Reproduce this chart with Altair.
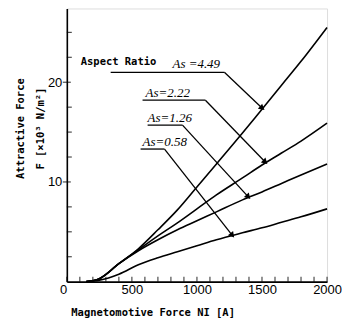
import altair as alt
import pandas as pd

# ---- data ----
ni = [150, 250, 400, 550, 700, 850, 1000, 1150, 1350, 1500, 1650, 1800, 2000]
f_449 = [0, 0.3, 1.8, 3.3, 5.2, 7.2, 9.5, 11.8, 14.9, 17.3, 19.7, 22.1, 25.5]
f_222 = [0, 0.3, 1.8, 3.2, 4.6, 5.9, 7.3, 8.7, 10.4, 11.7, 12.9, 14.1, 15.9]
f_126 = [0, 0.3, 1.8, 3.1, 4.2, 5.2, 6.1, 7.0, 8.2, 9.0, 9.85, 10.7, 11.8]
f_058 = [0, 0.15, 0.75, 1.7, 2.4, 3.0, 3.6, 4.2, 4.9, 5.4, 5.95, 6.5, 7.3]
ratios = ["4.49", "2.22", "1.26", "0.58"]

x_tick_labels = [0, 500, 1000, 1500, 2000]
y_tick_labels = [0, 10, 20]
x_minor = list(range(0, 2001, 100))
y_minor = [2.5, 5, 7.5, 12.5, 15, 17.5, 22.5, 25]
y_major = [10, 20]

# annotation labels (text, anchor NI, anchor F)
ann_text = ["Aspect Ratio", "As =4.49", "As=2.22", "As=1.26", "As=0.58"]
ann_x = [107, 812, 605, 621, 582]
ann_y = [21.7, 21.4, 18.5, 16.0, 13.6]
# underline start, underline end / leader start, arrow tip
ul_x0 = [337, 582, 621, 567]
ul_x1 = [1211, 1065, 889, 751]
ul_y = [21.0, 18.2, 15.7, 13.3]
tip_x = [1502, 1525, 1395, 1272]
tip_y = [17.4, 12.0, 8.5, 4.65]
tip_angle = [130, 134, 137, 141]

# ---- tables ----
rows = []
for lab, vals in zip(ratios, [f_449, f_222, f_126, f_058]):
    for x, y in zip(ni, vals):
        rows.append({"NI": x, "F": y, "As": lab})
df = pd.DataFrame(rows)

seg = pd.DataFrame(
    [{"x": a, "y": c, "x2": b, "y2": c} for a, b, c in zip(ul_x0, ul_x1, ul_y)]
    + [{"x": b, "y": c, "x2": tx, "y2": ty} for b, c, tx, ty in zip(ul_x1, ul_y, tip_x, tip_y)]
)
tips = pd.DataFrame({"x": tip_x, "y": tip_y, "a": tip_angle})
lab_mono = pd.DataFrame({"x": ann_x[:1], "y": ann_y[:1], "t": ann_text[:1]})
lab_serif = pd.DataFrame({"x": ann_x[1:], "y": ann_y[1:], "t": ann_text[1:]})
xt = pd.DataFrame({"x": x_minor, "y": [0] * len(x_minor)})
yt_min = pd.DataFrame({"x": [0] * len(y_minor), "y": y_minor})
yt_maj = pd.DataFrame({"x": [0] * len(y_major), "y": y_major})

xs = alt.Scale(domain=[0, 2000], nice=False, zero=False)
ys = alt.Scale(domain=[0, 27.4], nice=False, zero=False)

xaxis = alt.Axis(
    values=x_tick_labels, format="d", ticks=False, grid=False, domainColor="black", domainWidth=1.6,
    labelFont="Liberation Sans", labelFontSize=13, labelColor="black", labelPadding=2,
    labelAlign={"condition": {"test": "datum.value == 0", "value": "right"}, "value": "center"},
    title="Magnetomotive Force NI [A]", titleFont="DejaVu Sans Mono", titleFontSize=10.5,
    titleFontWeight="bold", titleColor="black", titleX=4, titleAlign="left",
    titleAnchor="start", titlePadding=11,
)
yaxis = alt.Axis(
    values=y_tick_labels, ticks=False, grid=False, domainColor="black", domainWidth=1.6,
    labelFont="Liberation Sans", labelFontSize=13, labelColor="black", labelPadding=5,
    labelExpr="datum.value == 0 ? '' : datum.label",
    title=["Attractive Force", "F [×10³ N/m²]"], titleFont="DejaVu Sans Mono",
    titleFontSize=10.5, titleFontWeight="bold", titleColor="black", titleLineHeight=20,
    titlePadding=2, titleY=120,
)

curves = alt.Chart(df).mark_line(color="black", strokeWidth=1.6, interpolate="monotone").encode(
    x=alt.X("NI:Q", scale=xs, axis=xaxis),
    y=alt.Y("F:Q", scale=ys, axis=yaxis),
    detail="As:N",
)

rules = alt.Chart(seg).mark_rule(color="black", strokeWidth=1.3).encode(
    x="x:Q", y="y:Q", x2="x2:Q", y2="y2:Q"
)
heads = alt.Chart(tips).mark_point(
    shape="triangle-up", filled=True, color="black", size=45, opacity=1
).encode(x="x:Q", y="y:Q", angle=alt.Angle("a:Q", scale=None))

t_mono = alt.Chart(lab_mono).mark_text(
    font="DejaVu Sans Mono", fontWeight="bold", fontSize=10.5, align="left",
    baseline="alphabetic", color="black"
).encode(x="x:Q", y="y:Q", text="t:N")
t_serif = alt.Chart(lab_serif).mark_text(
    font="Liberation Serif", fontStyle="italic", fontSize=13, align="left",
    baseline="alphabetic", color="black"
).encode(x="x:Q", y="y:Q", text="t:N")

xticks = alt.Chart(xt).mark_tick(orient="vertical", color="black", size=5, thickness=1.2, yOffset=-2.5).encode(
    x="x:Q", y="y:Q"
)
yticks_min = alt.Chart(yt_min).mark_tick(orient="horizontal", color="black", size=5, thickness=1.2, xOffset=2.5).encode(
    x="x:Q", y="y:Q"
)
yticks_maj = alt.Chart(yt_maj).mark_tick(orient="horizontal", color="black", size=8, thickness=1.2, xOffset=0).encode(
    x="x:Q", y="y:Q"
)

chart = alt.layer(curves, rules, heads, t_mono, t_serif, xticks, yticks_min, yticks_maj).properties(
    width=261, height=274, padding={"left": 7, "top": 0, "right": 0, "bottom": 0}
).configure_view(stroke=None).configure(background="white")

chart.save("out.html", embed_options={"renderer": "svg", "actions": False})
